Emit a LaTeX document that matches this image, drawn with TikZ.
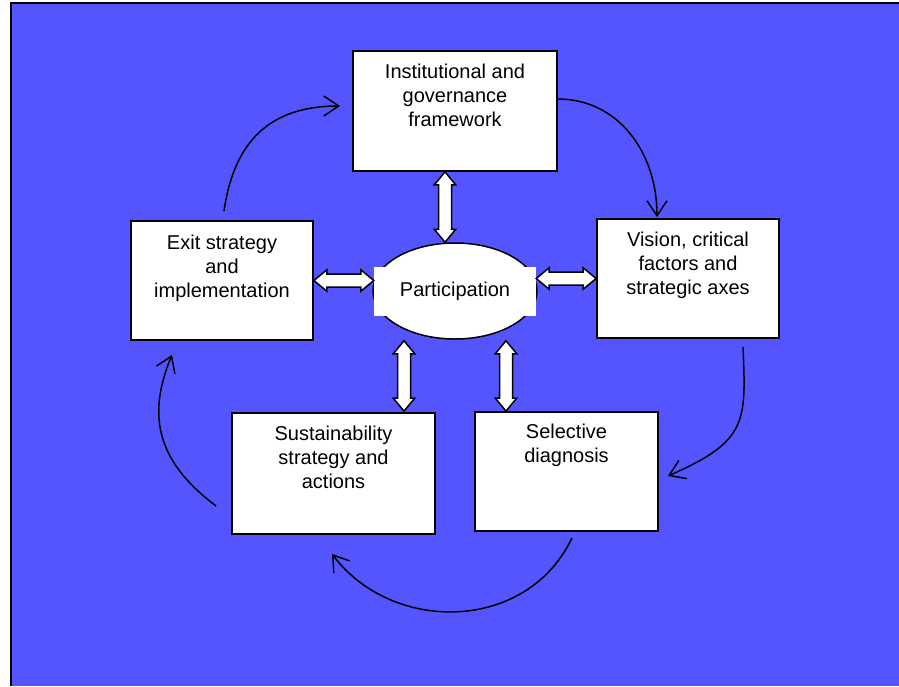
\documentclass[tikz,border=0pt]{standalone}
\usepackage{fontspec}
\setmainfont{Liberation Sans}
\usetikzlibrary{shapes.geometric,positioning,calc,arrows.meta}

\definecolor{bgblue}{RGB}{85,85,255}

\tikzset{
  box/.style={rectangle, draw=black, fill=white, line width=1.8pt, inner sep=0pt},
  boxtext/.style={align=center, inner sep=0pt},
  partell/.style={ellipse, draw=black, fill=white, line width=1.5pt, inner sep=0pt,
    minimum width=164pt, minimum height=96pt},
  partlbl/.style={rectangle, fill=white, inner sep=0pt, minimum width=162pt, minimum height=49pt},
  flow/.style={line width=1.5pt, -{Straight Barb[length=15pt,width=20pt]}},
  dbl/.style={draw=black, fill=white, line width=1.5pt, line join=miter}
}

% block arrow with a head at both ends, from #1 to #2
\newcommand{\dblarrow}[2]{%
  \draw[dbl] (#1)
    -- ($(#1)!13pt!(#2)!10.75pt!90:(#2)$)
    -- ($(#1)!13pt!(#2)!6.5pt!90:(#2)$)
    -- ($(#2)!13pt!(#1)!6.5pt!-90:(#1)$)
    -- ($(#2)!13pt!(#1)!10.75pt!-90:(#1)$)
    -- (#2)
    -- ($(#2)!13pt!(#1)!10.75pt!90:(#1)$)
    -- ($(#2)!13pt!(#1)!6.5pt!90:(#1)$)
    -- ($(#1)!13pt!(#2)!6.5pt!-90:(#2)$)
    -- ($(#1)!13pt!(#2)!10.75pt!-90:(#2)$)
    -- cycle;}

\begin{document}
\begin{tikzpicture}[x=1pt, y=-1pt, every node/.style={font=\fontsize{20}{24}\selectfont}]
\useasboundingbox (0,0) rectangle (899,686);
\fill[bgblue] (11,3) rectangle (899,686);
\draw[line width=2pt] (11,686) -- (11,3) -- (899,3);

% boxes
\node[box, minimum width=204pt, minimum height=120pt] (inst) at (455,111) {};
\node[box, minimum width=182pt, minimum height=119pt] (exit) at (222,280.5) {};
\node[box, minimum width=182pt, minimum height=119pt] (vis) at (688,278.5) {};
\node[box, minimum width=203pt, minimum height=121pt] (sus) at (333.5,473.5) {};
\node[box, minimum width=183pt, minimum height=119pt] (sel) at (566.5,471.5) {};

\node[boxtext, below=14pt of inst.north] (insttext) {Institutional and\\governance\\framework};
\node[boxtext, below=15pt of exit.north] (exittext) {Exit strategy\\and\\implementation};
\node[boxtext, below=14pt of vis.north] (vistext) {Vision, critical\\factors and\\strategic axes};
\node[boxtext, below=14pt of sus.north] (sustext) {Sustainability\\strategy and\\actions};
\node[boxtext, below=13pt of sel.north] (seltext) {Selective\\diagnosis};

\node[partell] (part) at (455,291) {};
\node[partlbl] (partlbl) at (455,291.5) {Participation};

% ends of the double arrows
\coordinate (t1) at ($(inst.south)+(-10,0)$);
\coordinate (t2) at ($(part.north)+(-10,0)$);
\coordinate (l2) at (exit.east -| partlbl.west);
\coordinate (r1) at (vis.west -| partlbl.east);
\coordinate (b1) at ($(part.south)+(-51,1)$);
\coordinate (b2) at ($(sus.north)+(70.5,-1)$);
\coordinate (c1) at ($(part.south)+(51,1)$);
\coordinate (c2) at ($(sel.north)+(-60.5,0)$);

\dblarrow{t1}{t2}
\dblarrow{exit.east}{l2}
\dblarrow{r1}{vis.west}
\dblarrow{b1}{b2}
\dblarrow{c1}{c2}

% cycle
\draw[flow] ($(exit.north)+(2,-9)$) .. controls +(10,-70) and +(-70,0) .. ($(inst.west)+(-12,-5)$);
\draw[flow] ($(inst.east)+(0,-12)$) .. controls +(60,0) and +(0,-65) .. ($(vis.north)+(-31,-1)$);
\draw[flow] ($(vis.south)+(55,8)$) .. controls +(3,75) and +(80,-35) .. ($(sel.east)+(9,4.5)$);
\draw[flow] ($(sel.south)+(5.5,6)$) .. controls +(-45,95) and +(60,80) .. ($(sus.south)+(-1.5,19)$);
\draw[flow] ($(sus.west)+(-15,32.5)$) .. controls +(-60,-45) and +(-25,60) .. ($(exit.south)+(-50,14)$);

\end{tikzpicture}
\end{document}
